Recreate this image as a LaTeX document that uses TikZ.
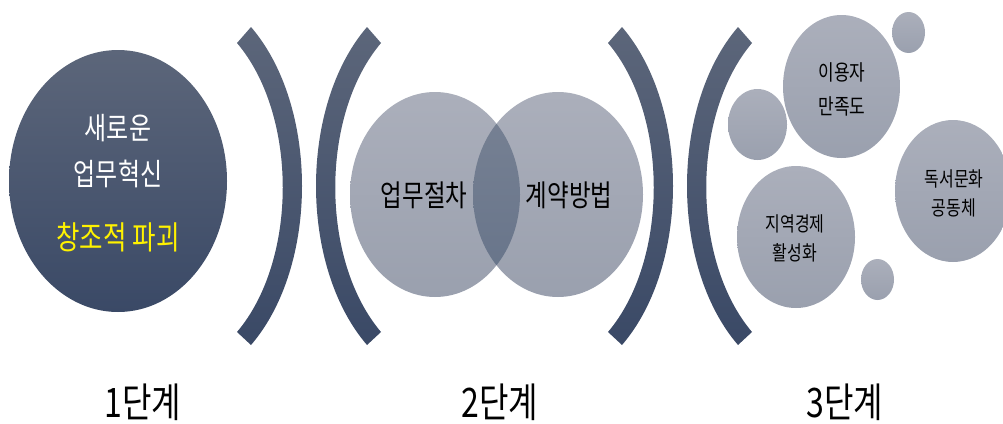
\documentclass[tikz,border=0pt]{standalone}
\usepackage{fontspec}
\newfontfamily\kr{Noto Sans CJK KR}
\usetikzlibrary{shapes.geometric}
\definecolor{navytop}{RGB}{92,102,122}
\definecolor{navybot}{RGB}{58,73,102}
\definecolor{greytop}{RGB}{171,175,187}
\definecolor{greybot}{RGB}{154,160,174}
\definecolor{lenstop}{RGB}{120,130,148}
\definecolor{lensbot}{RGB}{102,115,137}
\newcommand{\tall}[1]{\scalebox{1}[1.27]{#1}}

\begin{document}
\begin{tikzpicture}[x=1pt,y=-1pt,
	bracket/.style={top color=navytop,bottom color=navybot},
	bubble/.style={ellipse,inner sep=0pt,top color=greytop,bottom color=greybot},
	word/.style={font=\kr\fontsize{#1}{#1}\selectfont,inner sep=0pt}]
	\useasboundingbox (0,0) rectangle (1003,423);
	
	% brackets ) ( between the steps
	\foreach \dx in {0,371}{
		\begin{scope}[xshift=\dx]
			\shade[bracket] (237,43) .. controls (298,115) and (298,260) .. (237,332) -- (251,345) .. controls (319,266) and (319,106) .. (251,27) -- cycle;
		\end{scope}
		\begin{scope}[xshift=\dx,shift={(618,0)},xscale=-1]
			\shade[bracket] (237,43) .. controls (298,115) and (298,260) .. (237,332) -- (251,345) .. controls (319,266) and (319,106) .. (251,27) -- cycle;
		\end{scope}
	}
	
	% step 1
	\node[ellipse,inner sep=0pt,bracket,minimum width=218pt,minimum height=262pt] (innov) at (118,181) {};
	\node[word=24,white] (innova) at (118,128.5) {\tall{새로운}};
	\node[word=24,white] (innovb) at (118,173.5) {\tall{업무혁신}};
	\node[word=25.5,yellow] (innovc) at (118,237.5) {\tall{창조적 파괴}};
	
	% step 2
	\node[bubble,minimum width=170pt,minimum height=205pt] (proc) at (435,194.5) {};
	\node[bubble,minimum width=170pt,minimum height=205pt] (contr) at (558,194.5) {};
	\begin{scope}
		\clip (proc.center) ellipse [x radius=85,y radius=102.5];
		\shade[top color=lenstop,bottom color=lensbot] (contr.center) ellipse [x radius=85,y radius=102.5];
	\end{scope}
	\node[word=23.5] (proct) at (424,195.5) {\tall{업무절차}};
	\node[word=23.5] (contrt) at (569,195.5) {\tall{계약방법}};
	
	% step 3
	\node[bubble,minimum width=33pt,minimum height=41pt] (dota) at (908.5,32.5) {};
	\node[bubble,minimum width=59pt,minimum height=71pt] (dotb) at (757.5,124.5) {};
	\node[bubble,minimum width=33pt,minimum height=41pt] (dotc) at (877.5,279.5) {};
	\node[bubble,minimum width=117pt,minimum height=143pt] (users) at (841.5,86.5) {};
	\node[bubble,minimum width=118pt,minimum height=142pt] (local) at (796,237) {};
	\node[bubble,minimum width=116pt,minimum height=142pt] (reading) at (953,191) {};
	\node[word=17] (usersa) at (842,72.5) {\tall{이용자}};
	\node[word=17] (usersb) at (842,106) {\tall{만족도}};
	\node[word=16] (locala) at (795,224) {\tall{지역경제}};
	\node[word=16] (localb) at (795,253) {\tall{활성화}};
	\node[word=16] (readinga) at (954,178.5) {\tall{독서문화}};
	\node[word=16] (readingb) at (954,207.5) {\tall{공동체}};
	
	% step labels
	\node[word=32] (s1) at (143,402) {\tall{1단계}};
	\node[word=32] (s2) at (500,402) {\tall{2단계}};
	\node[word=32] (s3) at (845,402) {\tall{3단계}};
\end{tikzpicture}
\end{document}
